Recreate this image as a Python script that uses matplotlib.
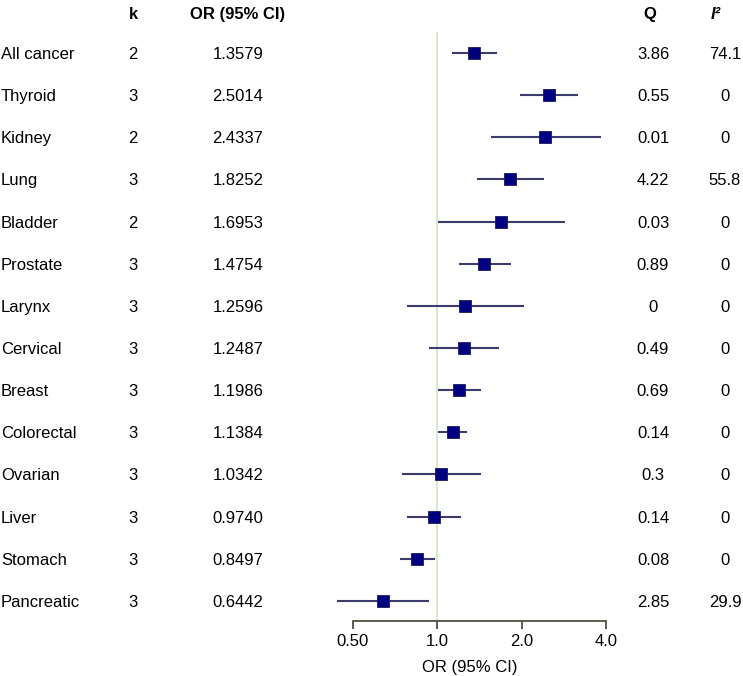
import numpy as np
import matplotlib.pyplot as plt
from matplotlib.transforms import blended_transform_factory

plt.rcParams['font.family'] = ['Liberation Sans', 'DejaVu Sans']
plt.rcParams['font.size'] = 12

# data
sites = ['All cancer', 'Thyroid', 'Kidney', 'Lung', 'Bladder', 'Prostate', 'Larynx',
         'Cervical', 'Breast', 'Colorectal', 'Ovarian', 'Liver', 'Stomach', 'Pancreatic']
k = [2, 3, 2, 3, 2, 3, 3, 3, 3, 3, 3, 3, 3, 3]
odds = [1.3579, 2.5014, 2.4337, 1.8252, 1.6953, 1.4754, 1.2596,
        1.2487, 1.1986, 1.1384, 1.0342, 0.9740, 0.8497, 0.6442]
ci_low = [1.13, 1.98, 1.56, 1.39, 1.01, 1.20, 0.78,
          0.94, 1.01, 1.01, 0.75, 0.78, 0.74, 0.44]
ci_high = [1.64, 3.18, 3.84, 2.41, 2.86, 1.84, 2.04,
           1.66, 1.44, 1.28, 1.44, 1.22, 0.98, 0.94]
q_vals = ['3.86', '0.55', '0.01', '4.22', '0.03', '0.89', '0',
          '0.49', '0.69', '0.14', '0.3', '0.14', '0.08', '2.85']
i2_vals = ['74.1', '0', '0', '55.8', '0', '0', '0',
           '0', '0', '0', '0', '0', '0', '29.9']

W, H = 743, 676
fig = plt.figure(figsize=(W / 100, H / 100), dpi=100)
ax = fig.add_axes([320 / W, (H - 621) / H, 300 / W, (621 - 32) / H])

rows = np.arange(len(sites))

ax.axvline(1.0, color='#d3e6c6', lw=1.3, zorder=1)
ax.hlines(rows, ci_low, ci_high, color='#3b3b6e', lw=1.5, zorder=2)
ax.plot(odds, rows, 's', color='#000080', markersize=8, markeredgecolor='#1a1a5a',
        markeredgewidth=0.6, zorder=3)

ax.set_xscale('log', base=2)
ax.set_xlim(2 ** (-117 / 84.5), 2 ** (183 / 84.5))
ax.set_ylim((621 - 53) / 42.15, (32 - 53) / 42.15)
ax.set_xticks([0.5, 1, 2, 4])
ax.set_xticklabels(['0.50', '1.0', '2.0', '4.0'])
ax.minorticks_off()
ax.set_yticks([])

for sp in ['top', 'right', 'left']:
    ax.spines[sp].set_visible(False)
ax.spines['bottom'].set_bounds(0.5, 4)
ax.spines['bottom'].set_color('#4d5240')
ax.spines['bottom'].set_linewidth(1.3)
ax.tick_params(axis='x', length=6, width=1.3, color='#4d5240', pad=3, labelsize=12)
ax.set_xlabel('OR (95% CI)', fontsize=12, labelpad=8)

# table columns, x in figure pixels, y through the axes rows
tr = blended_transform_factory(fig.transFigure, ax.transData)
hdr = (13 - 53) / 42.15

def col(x, y, s, **kw):
    ax.text(x / W, y, s, transform=tr, va='center_baseline', clip_on=False, **kw)

col(133, hdr, 'k', ha='center', fontweight='bold')
col(238, hdr, 'OR (95% CI)', ha='center', fontweight='bold')
col(650, hdr, 'Q', ha='center', fontweight='bold')
col(716, hdr, 'I²', ha='center', fontweight='bold', fontstyle='italic')

for i in rows:
    col(1, i, sites[i], ha='left')
    col(133, i, str(k[i]), ha='center')
    col(238, i, f'{odds[i]:.4f}', ha='center')
    col(653, i, q_vals[i], ha='center')
    col(725, i, i2_vals[i], ha='center')

fig.savefig('out.png', dpi=100)
